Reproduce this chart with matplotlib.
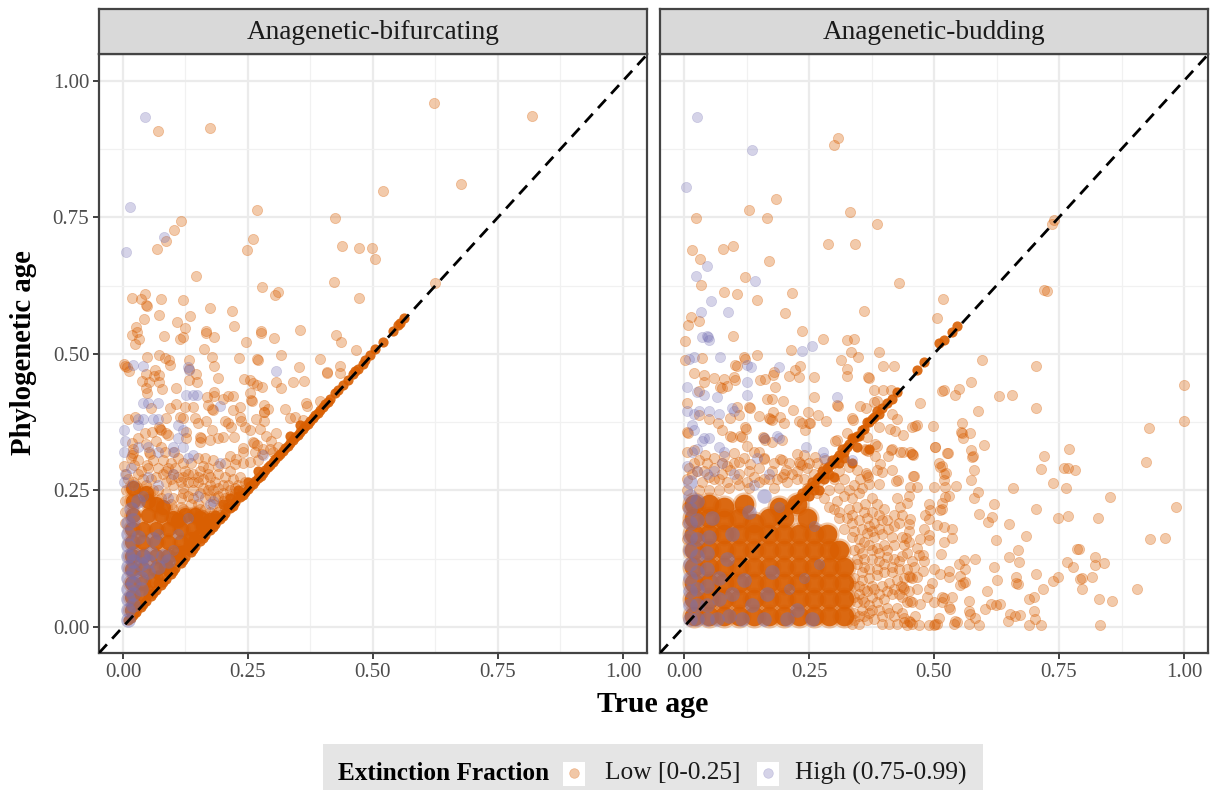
import numpy as np
import matplotlib
matplotlib.use('Agg')
import matplotlib.pyplot as plt
from matplotlib.patches import Rectangle

plt.rcParams['font.family'] = ['Liberation Serif', 'DejaVu Serif']

# values as (true age, phylogenetic age)
panel_titles = ['Anagenetic-bifurcating', 'Anagenetic-budding']
legend_labels = ['Low [0-0.25]', 'High (0.75-0.99)']
ticks = [0, 0.25, 0.5, 0.75, 1.0]
tick_labels = ['0.00', '0.25', '0.50', '0.75', '1.00']
minor_ticks = [0.125, 0.375, 0.625, 0.875]

bif_low = [(.069,.908),(.174,.913),(.622,.96),(.818,.936),(.676,.811),(.521,.799),(.268,.763),(.424,.748),(.115,.743),
(.102,.726),(.085,.706),(.261,.711),(.068,.691),(.249,.690),(.439,.698),(.473,.694),(.499,.694),(.505,.673),(.146,.642),
(.423,.632),(.277,.622),(.311,.614),(.305,.608),(.473,.602),(.017,.602),(.043,.610),(.035,.601),(.046,.589),(.047,.588),
(.076,.600),(.121,.599),(.174,.583),(.219,.579),(.072,.571),(.133,.570),(.041,.564),(.108,.559),(.026,.549),(.124,.547),
(.223,.550),(.167,.541),(.276,.541),(.354,.543),(.625,.63),(.017,.535),(.027,.539),(.031,.527),(.024,.518),(.081,.532),
(.114,.527),(.121,.531),(.167,.538),(.182,.530),(.162,.509),(.247,.522),(.276,.538),(.303,.528),(.427,.534),(.436,.522),
(.467,.506),(.317,.497),(.232,.493),(.267,.490),(.270,.488),(.395,.491),(.179,.494),(.182,.478),(.132,.488),(.131,.472),
(.047,.494),(.071,.498),(.084,.492),(.091,.488),(.094,.479),(.001,.481),(.007,.475),(.012,.468),(.004,.478),(.352,.475),
(.409,.467),(.409,.464),(.435,.478),(.435,.464),(.046,.463),(.064,.471),(.061,.460),(.071,.461),(.037,.451),(.051,.449),
(.071,.449),(.146,.463),(.149,.448),(.131,.452),(.191,.455),(.242,.453),(.254,.452),(.261,.447),(.267,.443),(.277,.440),
(.307,.449),(.317,.438),(.341,.448),(.362,.450),(.045,.437),(.077,.435),(.107,.437),(.047,.428),(.182,.430),(.254,.429),
(.182,.422),(.169,.420),(.201,.418),(.211,.422),(.221,.423),(.257,.415),(.258,.414),(.171,.406),(.179,.398),(.180,.397),
(.106,.408),(.093,.400),(.056,.400),(.124,.402),(.139,.403),(.221,.397),(.234,.402),(.281,.406),(.291,.398),(.281,.394),
(.283,.393),(.325,.398),(.367,.409),(.368,.405),(.395,.414),(.334,.382),(.345,.384),(.361,.379),(.009,.381),(.024,.384),
(.086,.382),(.114,.385),(.121,.382),(.144,.382),(.151,.373),(.167,.376),(.204,.377),(.211,.374),(.234,.385),(.237,.376),
(.266,.380),(.281,.377),(.217,.365),(.244,.366),(.254,.360),(.274,.363),(.307,.355),(.074,.363),(.076,.360),(.072,.366),
(.087,.354),(.090,.351),(.044,.354),(.057,.357),(.127,.357),(.179,.360),(.154,.348),(.157,.345),(.174,.342),(.201,.348),
(.222,.348),(.191,.345),(.287,.350),(.296,.340),(.260,.339),(.262,.336),(.267,.333),(.241,.327),(.294,.325),(.241,.320),
(.264,.320),(.277,.317),(.215,.313),(.227,.308),(.154,.339),(.127,.345),(.017,.336),(.017,.314),(.020,.318),(.015,.310),
(.051,.320),(.054,.317),(.001,.295),(.021,.296),(.047,.296),(.101,.320),(.084,.320),(.224,.299),(.241,.300),(.254,.301),
(.03,.345),(.045,.335),(.065,.340),(.075,.33),(.02,.325),(.03,.305),(.06,.305),(.08,.305),(.095,.30),(.11,.31),(.12,.30),
(.135,.30),(.15,.31),(.165,.31),(.18,.305),(.19,.295),(.205,.30),(.16,.295),(.17,.29),(.07,.29),(.085,.285),(.10,.28),
(.125,.285),(.14,.28),(.155,.285),(.175,.275),(.19,.28),(.205,.275),(.22,.27),(.215,.285),(.235,.275),(.23,.26),(.245,.265),
(.24,.25),(.20,.26),(.215,.25),(.19,.255),(.175,.26),(.16,.255),(.15,.265),(.13,.265),(.115,.265),(.10,.26),(.085,.265),
(.22,.235),(.205,.235),(.19,.24),(.175,.24),(.21,.225),(.195,.22),(.18,.225),(.165,.235),(.15,.225),(.13,.24),(.115,.235),
(.10,.235),(.085,.245),(.07,.25),(.055,.27),(.04,.27),(.03,.28),(.19,.21),(.205,.215),(.18,.205),(.165,.215),(.17,.195),
(.185,.19),(.16,.205),(.145,.21),(.12,.215),(.10,.215),(.225,.255),(.28,.325),(.30,.32),(.27,.305),(.31,.33),
(.01,.27),(.02,.265),(.035,.285),(.05,.29),(.065,.275),(.08,.28),(.095,.27),(.11,.275),(.12,.255),(.14,.25),(.155,.245),
(.17,.25),(.185,.235),(.20,.245),(.215,.24),(.195,.205),(.175,.21),(.155,.215),(.135,.225),(.115,.22),(.095,.225),(.075,.235),
(.06,.25),(.045,.26),(.03,.255),(.13,.28),(.15,.275),(.17,.28),(.185,.265),(.21,.26),(.225,.245),(.005,.25),(.005,.28),(.003,.23),
(.003,.21),(.003,.19),(.09,.29),(.105,.29),(.12,.275),(.14,.265),(.16,.27),(.18,.25),(.20,.23),(.14,.235),(.12,.245)]
bif_core = [(.03,.038),(.05,.06),(.07,.08),(.09,.10),(.11,.12),(.13,.14),(.15,.16),(.17,.18),(.19,.20),(.21,.22),(.23,.24),
(.01,.012),(.02,.022),(.04,.042),(.06,.062),(.08,.082),(.10,.102),(.12,.122),(.14,.142),(.16,.162),(.18,.182),(.20,.202),
(.22,.222),(.24,.242),(.25,.252),(.26,.262),(.27,.272),(.28,.282),(.29,.292),(.30,.302),(.31,.312),(.32,.322),(.33,.332),
(.34,.342),(.35,.352),(.36,.362),(.37,.372),(.38,.382),(.39,.392),(.40,.402),(.41,.412),(.425,.428),(.44,.442),(.46,.463),
(.47,.472),(.485,.488),(.505,.508),(.54,.542),(.555,.556),(.562,.565),(.355,.37),(.335,.35),(.27,.285),(.25,.265),
(.245,.247),(.255,.258),(.265,.267),(.275,.277),(.285,.288),(.295,.297),(.305,.308),(.315,.317),(.325,.328),(.335,.337),
(.345,.348),(.355,.357),(.365,.368),(.375,.377),(.385,.388),(.395,.397),(.405,.408),(.415,.418),(.43,.433),(.45,.452),(.465,.468),
(.48,.482),(.495,.497),(.52,.522),(.55,.552),(.215,.217),(.225,.228),(.235,.237),(.205,.208),(.195,.197),(.185,.188),(.175,.177),
(.165,.168),(.155,.157),(.145,.148),(.135,.137),(.125,.128),(.115,.117),(.105,.108),(.095,.097),(.085,.088),(.075,.077),(.065,.068),
(.055,.057),(.045,.048),(.035,.037),(.025,.027),(.015,.017),(.23,.25),(.215,.235),(.20,.225),
(.13,.15),(.15,.17),(.17,.19),(.09,.115),(.07,.095),(.05,.07),(.11,.13),(.185,.205),(.12,.14),(.14,.16),(.16,.18)]
bif_blob = [(.018,.03),(.018,.055),(.038,.06),(.018,.08),(.04,.08),(.06,.085),(.018,.105),(.04,.105),(.065,.105),(.085,.11),
(.018,.13),(.04,.13),(.065,.13),(.09,.13),(.11,.135),(.018,.155),(.04,.155),(.065,.155),(.09,.155),(.115,.155),(.135,.16),
(.018,.18),(.04,.18),(.065,.18),(.09,.18),(.115,.18),(.14,.18),(.16,.185),(.02,.205),(.05,.205),(.075,.205),(.125,.205),
(.02,.23),(.05,.23),(.08,.22),(.11,.195),(.145,.205),(.02,.255),(.045,.245),(.065,.225),(.175,.195),(.155,.20),(.10,.20)]
bif_high = [(.002,.36),(.003,.34),(.002,.32),(.003,.28),(.002,.265),(.02,.48),(.04,.478),(.307,.468),(.13,.475),(.132,.47),
(.127,.425),(.14,.425),(.148,.425),(.04,.41),(.05,.41),(.07,.41),(.03,.38),(.04,.38),(.06,.38),(.07,.38),(.03,.37),(.11,.37),
(.12,.36),(.11,.345),(.10,.33),(.12,.33),(.13,.31),(.14,.315),(.03,.33),(.05,.33),(.07,.32),(.015,.29),(.02,.26),(.10,.32),
(.195,.405),(.28,.315),(.195,.30),(.10,.28),(.15,.24),(.18,.23),(.043,.933),(.014,.769),(.081,.713),(.005,.687),(.05,.275),
(.07,.26),(.04,.24),(.09,.235),(.13,.20),(.11,.17),(.07,.17),(.10,.14),(.175,.225)]
bif_high_core = [(.01,.012),(.01,.03),(.01,.05),(.01,.07),(.01,.09),(.01,.11),(.01,.13),(.01,.15),(.01,.17),
(.01,.19),(.02,.04),(.02,.06),(.02,.08),(.02,.10),(.02,.12),(.02,.135),(.035,.07),(.035,.09),(.035,.115),(.04,.13),(.05,.10),
(.05,.12),(.055,.135),(.015,.215),(.02,.195),(.03,.23),(.06,.16),(.08,.13),(.03,.165),(.09,.12),(.07,.11)]

bud_low = [(.308,.895),(.299,.883),(.183,.784),(.129,.763),(.166,.748),(.023,.749),(.331,.760),(.385,.737),(.287,.701),
(.342,.701),(.015,.690),(.077,.691),(.097,.698),(.031,.673),(.169,.669),(.121,.640),(.033,.626),(.429,.630),(.079,.613),
(.105,.609),(.215,.611),(.145,.599),(.201,.575),(.359,.579),(.013,.567),(.030,.560),(.007,.553),(.517,.601),(.505,.565),
(.235,.542),(.098,.532),(.277,.527),(.325,.526),(.340,.527),(.002,.523),(.002,.489),(.035,.492),(.119,.494),(.122,.491),
(.102,.480),(.105,.478),(.145,.497),(.213,.506),(.333,.504),(.347,.495),(.389,.503),(.313,.488),(.397,.478),(.420,.477),
(.019,.464),(.039,.461),(.039,.449),(.060,.455),(.080,.454),(.099,.458),(.102,.452),(.152,.452),(.162,.453),(.179,.466),
(.177,.461),(.232,.477),(.222,.470),(.229,.457),(.209,.460),(.260,.458),(.325,.472),(.325,.460),(.367,.458),(.369,.456),
(.072,.440),(.075,.438),(.085,.441),(.182,.439),(.029,.431),(.165,.417),(.175,.418),(.197,.414),(.259,.421),(.305,.406),
(.308,.404),(.379,.434),(.397,.434),(.413,.434),(.385,.414),(.380,.411),(.515,.432),(.519,.433),(.472,.409),(.005,.409),
(.129,.403),(.131,.401),(.105,.403),(.217,.397),(.247,.394),(.267,.387),(.352,.405),(.363,.401),(.029,.388),(.109,.388),
(.091,.383),(.149,.386),(.177,.394),(.172,.380),(.175,.378),(.170,.382),(.192,.385),(.199,.373),(.229,.377),(.235,.373),
(.249,.373),(.252,.374),(.241,.360),(.283,.377),(.335,.382),(.338,.378),(.415,.389),(.425,.380),(.389,.366),(.411,.362),
(.422,.359),(.437,.352),(.462,.368),(.465,.369),(.497,.368),(.050,.380),(.067,.373),(.075,.360),(.121,.365),(.124,.363),
(.112,.349),(.115,.347),(.092,.349),(.095,.347),(.005,.357),(.008,.355),(.325,.354),(.365,.347),(.302,.340),(.306,.343),
(.501,.330),(.525,.319),(.413,.324),(.416,.326),(.382,.334),(.385,.331),(.364,.324),(.367,.322),(.361,.326),(.455,.317),
(.458,.314),(.452,.320),(.382,.313),(.407,.312),(.431,.320),(.391,.299),(.415,.288),(.329,.292),(.345,.288),(.385,.287),
(.395,.284),(.365,.278),(.367,.274),(.363,.282),(.352,.271),(.369,.262),(.389,.262),(.424,.267),(.428,.269),(.459,.277),
(.452,.256),(.465,.256),(.499,.256),(.512,.293),(.519,.280),(.005,.320),(.019,.324),(.159,.345),(.162,.342),(.157,.348),
(.175,.339),(.195,.343),(.125,.331),(.149,.320),(.159,.308),(.192,.308),(.195,.305),(.203,.287),(.225,.317),(.239,.314),
(.232,.299),(.235,.296),(.229,.302),(.262,.311),(.282,.305),(.245,.290),(.132,.299),(.109,.302),(.092,.287),(.042,.314),
(.060,.310),(.080,.312),(.100,.318),(.030,.305),(.045,.300),(.025,.285),(.060,.290),(.075,.300),(.110,.280),(.130,.285),
(.150,.290),(.175,.285),(.185,.270),(.215,.280),(.260,.280),(.270,.265),(.240,.270),(.205,.265),(.290,.250),(.300,.270),
(.310,.255),(.320,.240),(.335,.235),(.350,.245),(.362,.225),(.345,.220),(.330,.215),(.375,.210),(.385,.225),(.400,.215),
(.395,.195),(.380,.190),(.365,.200),(.350,.195),(.335,.190),(.425,.235),(.432,.220),(.420,.205),(.408,.180),(.395,.170),
(.380,.165),(.365,.172),(.350,.160),(.430,.190),(.415,.165),(.400,.150),(.385,.145),(.370,.150),(.355,.135),(.340,.140),
(.335,.165),(.345,.115),(.360,.110),(.375,.125),(.390,.120),(.405,.128),(.420,.125),(.435,.130),(.445,.135),(.455,.120),
(.440,.150),(.430,.105),(.415,.100),(.400,.100),(.385,.095),(.370,.090),(.355,.085),(.340,.090),(.395,.075),(.380,.070),
(.365,.065),(.350,.060),(.410,.080),(.425,.085),(.440,.090),(.415,.060),(.400,.050),(.385,.045),(.370,.040),(.355,.030),
(.340,.025),(.430,.060),(.445,.045),(.425,.035),(.410,.025),(.395,.020),(.380,.015),(.365,.012),(.350,.006),(.335,.006),
(.395,.006),(.410,.005),(.425,.005),(.440,.008),(.320,.180),(.310,.200),(.300,.215),(.375,.055),(.345,.045),(.360,.045),
(.595,.488),(.703,.478),(1.0,.443),(.573,.449),(.549,.435),(.541,.425),(.630,.423),(.656,.425),(.587,.396),(.703,.401),
(.555,.373),(.455,.365),(.929,.364),(1.0,.376),(.553,.357),(.556,.354),(.571,.354),(.557,.345),(.599,.333),(.502,.330),
(.574,.324),(.575,.311),(.578,.312),(.527,.319),(.456,.316),(.437,.320),(.509,.300),(.515,.295),(.523,.282),(.579,.287),
(.719,.312),(.769,.325),(.714,.289),(.759,.290),(.767,.291),(.781,.287),(.924,.302),(.458,.277),(.519,.268),(.574,.268),
(.737,.264),(.522,.256),(.543,.258),(.658,.254),(.764,.254),(.587,.247),(.579,.236),(.530,.239),(.521,.238),(.515,.227),
(.619,.224),(.851,.238),(.983,.219),(.489,.224),(.492,.213),(.512,.213),(.515,.215),(.449,.239),(.445,.227),(.590,.207),
(.704,.215),(.615,.201),(.607,.191),(.649,.188),(.747,.199),(.768,.202),(.827,.200),(.482,.204),(.489,.198),(.452,.198),
(.449,.189),(.449,.176),(.505,.187),(.519,.183),(.535,.180),(.479,.180),(.684,.167),(.624,.159),(.519,.156),(.535,.163),
(.489,.169),(.489,.159),(.472,.160),(.444,.163),(.932,.160),(.961,.163),(.785,.142),(.790,.142),(.668,.140),(.469,.132),
(.477,.132),(.514,.133),(.649,.128),(.581,.125),(.559,.123),(.549,.115),(.670,.119),(.765,.119),(.821,.127),(.822,.113),
(.840,.116),(.777,.110),(.619,.109),(.561,.105),(.499,.105),(.530,.103),(.477,.102),(.704,.097),(.530,.091),(.551,.093),
(.512,.097),(.452,.091),(.455,.089),(.449,.093),(.465,.092),(.625,.086),(.664,.091),(.664,.081),(.667,.079),(.747,.092),
(.737,.083),(.792,.088),(.796,.090),(.815,.092),(.558,.080),(.561,.082),(.551,.076),(.495,.080),(.905,.070),(.717,.069),
(.605,.065),(.796,.070),(.437,.072),(.440,.070),(.434,.074),(.465,.069),(.489,.069),(.699,.054),(.689,.051),(.829,.051),
(.855,.047),(.535,.055),(.515,.055),(.519,.052),(.485,.054),(.569,.048),(.529,.036),(.532,.033),(.515,.045),(.499,.045),
(.452,.048),(.455,.045),(.472,.042),(.632,.042),(.624,.039),(.613,.042),(.602,.032),(.569,.029),(.571,.023),(.699,.029),
(.652,.023),(.662,.020),(.672,.021),(.647,.011),(.702,.014),(.689,.004),(.714,.003),(.832,.004),(.589,.004),(.569,.006),
(.582,.016),(.542,.011),(.545,.008),(.539,.006),(.509,.017),(.502,.005),(.505,.006),(.499,.004),(.489,.003),(.469,.004),
(.452,.008),(.455,.006),(.449,.010),(.446,.004),(.439,.017),(.462,.020),
(.005,.27),(.015,.28),(.035,.265),(.05,.275),(.07,.27),(.085,.265),(.105,.27),(.125,.265),(.14,.275),(.16,.27),(.18,.255),
(.195,.275),(.225,.27),(.245,.255),(.265,.245),(.28,.235),(.29,.22),(.305,.23),(.31,.21),(.325,.20),(.335,.205),(.34,.175),
(.355,.18),(.37,.185),(.35,.145),(.36,.155),(.345,.125),(.36,.125),(.37,.105),(.355,.10),(.34,.075),(.35,.075),(.36,.07),
(.375,.075),(.34,.055),(.355,.05),(.37,.025),(.35,.02),(.34,.012),(.36,.02),(.375,.03),(.39,.03),(.405,.035),(.42,.02),(.435,.025),
(.39,.06),(.405,.065),(.42,.07),(.435,.055),(.45,.065),(.385,.105),(.40,.115),(.415,.11),(.43,.12),(.445,.105),(.46,.11),(.375,.14),
(.39,.135),(.405,.14),(.42,.15),(.435,.165),(.45,.155),(.465,.145),(.48,.12),(.375,.175),(.39,.18),(.405,.195),(.42,.185),(.435,.205),
(.36,.21),(.375,.235),(.39,.205),(.33,.25),(.34,.26),(.355,.255),(.32,.27),(.31,.285),(.295,.30),(.28,.29),(.265,.30),(.25,.30),
(.21,.30),(.18,.30),(.16,.31),(.14,.32),(.12,.31),(.10,.30),(.085,.295),(.075,.28),(.06,.27),(.04,.285),(.02,.30),(.01,.29),(.225,.285),
(.20,.28),(.17,.27),(.15,.265),(.13,.255),(.11,.26),(.09,.255),(.07,.25),(.05,.25),(.03,.25),(.005,.25),(.005,.22),(.005,.19),(.005,.16),
(.74,.745),(.735,.738),(.725,.615),(.72,.617)]
bud_core = [(.20,.205),(.21,.215),(.22,.22),(.23,.235),(.24,.24),(.25,.255),(.26,.26),(.27,.275),(.28,.28),(.29,.295),(.30,.30),
(.31,.315),(.32,.32),(.33,.335),(.34,.345),(.35,.35),(.36,.362),(.37,.375),(.38,.385),(.39,.39),(.405,.41),(.415,.418),
(.425,.43),(.465,.47),(.48,.485),(.535,.54),(.51,.52),(.52,.525),(.545,.55),
(.345,.33),(.37,.325),(.335,.30),(.30,.275),(.27,.25),(.205,.215),(.215,.225),(.225,.23),(.235,.245),(.245,.25),(.255,.265),
(.265,.27),(.275,.285),(.285,.29),(.295,.305),(.305,.31),(.315,.325),(.325,.33),(.335,.345),(.345,.35),(.355,.36),(.365,.375),
(.375,.38),(.385,.395),(.395,.40),(.25,.24),(.26,.25),(.28,.27),(.29,.28),(.31,.30),(.32,.31)]
bud_blob = [(.02,.02),(.05,.02),(.08,.02),(.11,.02),(.14,.02),(.17,.02),(.20,.02),(.23,.02),(.26,.02),(.29,.02),(.32,.02),
(.02,.05),(.05,.05),(.08,.05),(.11,.05),(.14,.05),(.17,.05),(.20,.05),(.23,.05),(.26,.05),(.29,.05),(.32,.05),
(.02,.08),(.05,.08),(.08,.08),(.11,.08),(.14,.08),(.17,.08),(.20,.08),(.23,.08),(.26,.08),(.29,.08),(.32,.08),
(.02,.11),(.05,.11),(.08,.11),(.11,.11),(.14,.11),(.17,.11),(.20,.11),(.23,.11),(.26,.11),(.29,.11),(.32,.11),
(.02,.14),(.05,.14),(.08,.14),(.11,.14),(.14,.14),(.17,.14),(.20,.14),(.23,.14),(.26,.14),(.29,.14),(.31,.14),
(.02,.17),(.05,.17),(.08,.17),(.11,.17),(.14,.17),(.17,.17),(.20,.17),(.23,.17),(.26,.17),(.285,.17),
(.02,.20),(.05,.20),(.08,.195),(.11,.20),(.14,.19),(.17,.20),(.20,.20),(.245,.20),
(.02,.225),(.05,.225),(.08,.22),(.12,.225),(.19,.22),(.225,.225)]
bud_high = [(.025,.933),(.135,.873),(.004,.806),(.045,.660),(.023,.643),(.141,.633),(.054,.597),(.033,.576),(.088,.577),(.035,.531),
(.045,.533),(.047,.531),(.05,.525),(.01,.49),(.02,.495),(.072,.495),(.125,.48),(.133,.476),(.19,.475),(.235,.505),(.255,.515),
(.005,.44),(.025,.43),(.04,.425),(.125,.448),(.125,.425),(.065,.42),(.305,.42),(.005,.395),(.02,.39),(.03,.395),(.05,.395),
(.07,.39),(.095,.40),(.10,.395),(.015,.37),(.02,.36),(.04,.345),(.035,.34),(.05,.345),(.16,.345),(.19,.345),(.185,.35),(.243,.33),
(.278,.32),(.28,.31),(.335,.305),(.015,.32),(.025,.325),(.07,.33),(.08,.32),(.005,.295),(.025,.285),(.045,.28),(.145,.31),
(.17,.28),(.26,.185),(.19,.22),(.14,.26),(.10,.28),(.075,.30),(.06,.285),(.24,.09),(.27,.115),(.21,.07)]
bud_high_core = [(.012,.015),(.012,.04),(.012,.065),(.012,.09),(.012,.115),(.012,.14),(.012,.165),(.012,.19),(.012,.215),(.012,.24),
(.012,.265),(.025,.015),(.025,.04),(.025,.07),(.025,.10),(.025,.13),(.025,.16),(.025,.195),(.025,.23),(.045,.015),(.045,.04),(.045,.075),
(.045,.105),(.045,.135),(.05,.165),(.055,.20),(.065,.015),(.07,.05),(.07,.09),(.085,.125),(.09,.02),(.095,.06),(.115,.015),(.12,.085),
(.135,.04),(.16,.015),(.165,.06),(.205,.015),(.225,.03),(.095,.17),(.175,.10),(.13,.21),(.16,.24),(.255,.015)]

# same colours as the Dark2 palette
orange = '#d95f02'
purple = '#7570b3'

W = 1217.0
H = 790.0
fig = plt.figure(figsize=(12.17, 7.9), dpi=100)


def box(x0, y0, x1, y1):
    # pixel box from the top left corner to figure fractions
    return [x0 / W, 1 - y1 / H, (x1 - x0) / W, (y1 - y0) / H]


def draw_panel(pos, title, low, core, blob, high, high_core, blob_s, left):
    ax = fig.add_axes(box(*pos))
    ax.set_xlim(-0.048, 1.048)
    ax.set_ylim(-0.048, 1.049)
    ax.set_xticks(ticks)
    ax.set_xticklabels(tick_labels)
    ax.set_yticks(ticks)
    ax.set_yticklabels(tick_labels if left else [])
    ax.set_xticks(minor_ticks, minor=True)
    ax.set_yticks(minor_ticks, minor=True)
    ax.grid(which='major', color='#ebebeb', lw=1.6)
    ax.grid(which='minor', color='#f1f1f1', lw=0.9)
    ax.set_axisbelow(True)
    ax.tick_params(which='minor', length=0)
    ax.tick_params(which='major', length=4, width=1.3, color='#333333', labelcolor='#4d4d4d', labelsize=15, pad=3)
    if not left:
        ax.tick_params(axis='y', length=0)
    for s in ax.spines.values():
        s.set_color('#444444')
        s.set_linewidth(1.6)
    ax.scatter(*np.array(blob).T, s=blob_s * 1.5, color=orange, alpha=0.35, linewidths=0, zorder=2)
    ax.scatter(*np.array(blob).T, s=blob_s, color=orange, alpha=0.9, linewidths=0, zorder=2)
    ax.scatter(*np.array(low).T, s=54, color=orange, alpha=0.33, linewidths=0.6, zorder=3)
    ax.scatter(*np.array(core).T, s=54, color=orange, alpha=0.9, linewidths=0, zorder=3)
    ax.scatter(*np.array(high_core).T, s=110, color=purple, alpha=0.45, linewidths=0, zorder=4)
    ax.scatter(*np.array(high).T, s=54, color=purple, alpha=0.3, linewidths=0.5, zorder=4)
    ax.axline((0, 0), slope=1, color='black', lw=2, dashes=(4.2, 2.8), zorder=5)
    strip = fig.add_axes(box(pos[0], 9, pos[2], pos[1]))
    strip.set_facecolor('#d9d9d9')
    strip.set_xticks([])
    strip.set_yticks([])
    for s in strip.spines.values():
        s.set_color('#444444')
        s.set_linewidth(1.6)
    strip.text(0.5, 0.47, title, ha='center', va='center', fontsize=19.6, color='#1a1a1a', transform=strip.transAxes)
    return ax


draw_panel((99, 54, 647, 653), panel_titles[0], bif_low, bif_core, bif_blob, bif_high, bif_high_core, 120, True)
draw_panel((660, 54, 1208, 653), panel_titles[1], bud_low, bud_core, bud_blob, bud_high, bud_high_core, 200, False)

fig.text(24 / W, 1 - 353 / H, 'Phylogenetic age', rotation=90, ha='center', va='center', fontsize=20.7, fontweight='bold')
fig.text(653 / W, 1 - 704 / H, 'True age', ha='center', va='center', fontsize=21.5, fontweight='bold')

# legend band at the bottom, in pixel coordinates
lg = fig.add_axes([0, 0, 1, 1], facecolor='none')
lg.set_xlim(0, W)
lg.set_ylim(H, 0)
lg.axis('off')
lg.add_patch(Rectangle((323, 744), 660, 46, color='#e5e5e5', lw=0))
lg.add_patch(Rectangle((563, 762), 22, 24, color='white', lw=0))
lg.add_patch(Rectangle((757, 762), 22, 24, color='white', lw=0))
lg.scatter([574], [773], s=48, color=orange, alpha=0.35, linewidths=0.5)
lg.scatter([768], [773], s=48, color=purple, alpha=0.3, linewidths=0.5)
lg.text(338, 773, 'Extinction Fraction', ha='left', va='center', fontsize=18.2, fontweight='bold')
lg.text(605, 773, legend_labels[0], ha='left', va='center', fontsize=18.3, color='#1a1a1a')
lg.text(795, 773, legend_labels[1], ha='left', va='center', fontsize=18.3, color='#1a1a1a')

fig.savefig('out.png', dpi=100)
